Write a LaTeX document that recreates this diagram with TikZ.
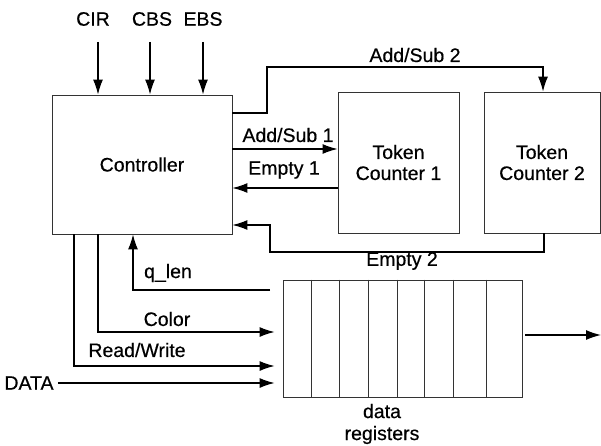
\documentclass[tikz,border=0pt]{standalone}
\usepackage{fontspec}
\setmainfont{Liberation Sans}[FakeBold=0.5]
\usetikzlibrary{arrows.meta}
\begin{document}
\begin{tikzpicture}[x=1pt,y=-1pt,
  font=\fontsize{19.5}{21}\selectfont,
  box/.style={draw=black!80,line width=0.8pt,minimum width=#1},
  wire/.style={line width=1.3pt},
  arr/.style={wire,-{Latex[length=15pt,width=10pt]}},
  lbl/.style={inner sep=0pt,anchor=center}]
\useasboundingbox (0,0) rectangle (601,446);

% blocks
\node[box=180pt,minimum height=139pt] (ctrl) at (142,164.5) {Controller};
\node[box=121pt,minimum height=141pt,align=center] (tc1) at (398.5,162.5) {Token\\Counter 1};
\node[box=116pt,minimum height=141pt,align=center] (tc2) at (542,162.5) {Token\\Counter 2};
\node[box=239pt,minimum height=117pt] (reg) at (402.5,338.5) {};
\foreach \x in {311,339,368,397,424,453,486}
  \draw[draw=black!80,line width=0.8pt] (\x,0 |- reg.north) -- (\x,0 |- reg.south);
\node[lbl,align=center] (reglbl) at (382,424) {data\\[1pt]registers};

% external inputs
\node[lbl] (cir) at (93,19) {CIR};
\node[lbl] (cbs) at (152,19) {CBS};
\node[lbl] (ebs) at (203,19) {EBS};
\draw[arr] (98,42) -- (98,0 |- ctrl.north);
\draw[arr] (150,42) -- (150,0 |- ctrl.north);
\draw[arr] (203,42) -- (203,0 |- ctrl.north);

% counter handshakes
\draw[arr] (ctrl.east |- 0,149) -- (tc1.west |- 0,149);
\node[lbl] (as1) at (288,135) {Add/Sub 1};
\draw[arr] (tc1.west |- 0,188) -- (ctrl.east |- 0,188);
\node[lbl] (e1) at (284,170) {Empty 1};
\draw[arr] (ctrl.east |- 0,113) -- (267,113) -- (267,67) -- (543,67) -- (543,0 |- tc2.north);
\node[lbl] (as2) at (415,55) {Add/Sub 2};
\draw[arr] (544,0 |- tc2.south) -- (544,252) -- (270,252) -- (270,225) -- (ctrl.east |- 0,225);
\node[lbl] (e2) at (402,261) {Empty 2};

% register interface
\coordinate (qsrc) at (270,290);
\draw[arr] (qsrc) -- (133,290) -- (133,0 |- ctrl.south);
\node[lbl] (ql) at (168,273) {q\_len};
\draw[arr,shorten >=8pt] (98,0 |- ctrl.south) -- (98,332) -- (reg.west |- 0,332);
\node[lbl] (col) at (167,319) {Color};
\draw[arr,shorten >=8pt] (74,0 |- ctrl.south) -- (74,366) -- (reg.west |- 0,366);
\node[lbl] (rw) at (137,350) {Read/Write};
\node[lbl] (data) at (29,383) {DATA};
\draw[arr,shorten >=8pt] (data.east) ++(4,0) -- (reg.west |- 0,383);
\coordinate (out) at (601,335);
\draw[arr] (reg.east |- out) ++(3,0) -- (out);
\end{tikzpicture}
\end{document}
